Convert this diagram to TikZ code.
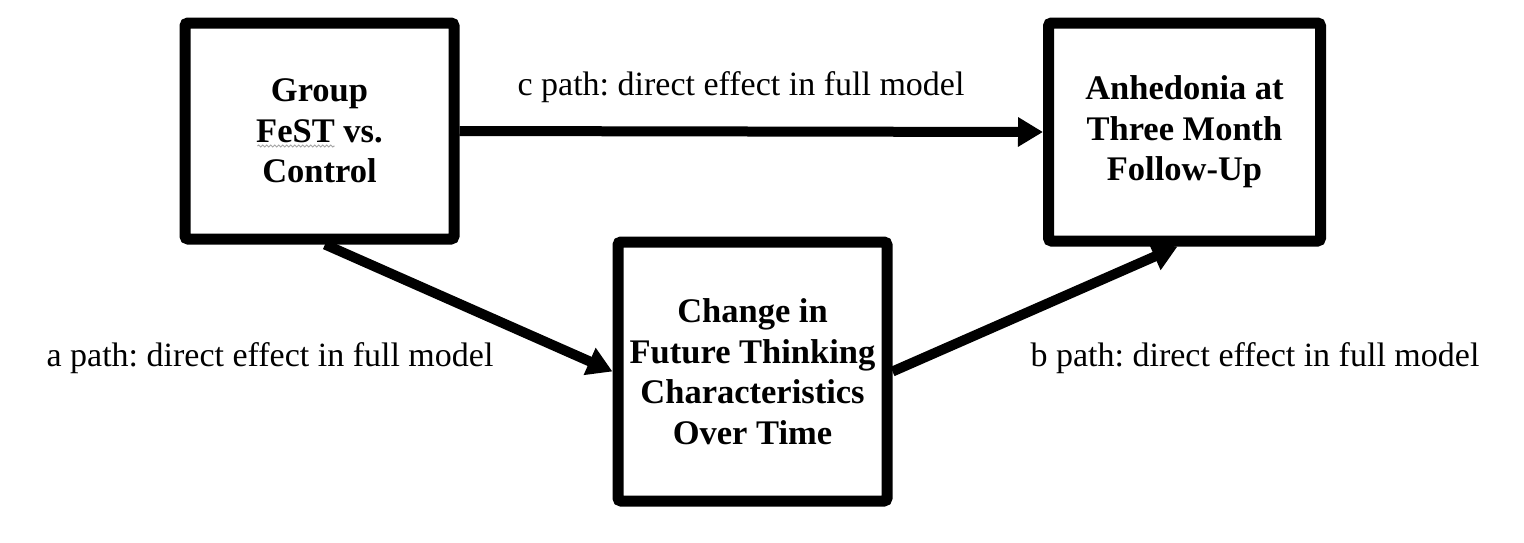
\documentclass[tikz,border=0pt]{standalone}
\usepackage{fontspec}
\setmainfont{Liberation Serif}
\usetikzlibrary{arrows.meta,calc,decorations.pathmorphing}
\tikzset{
  boxnode/.style={draw=black, line width=11pt, rounded corners=3pt, fill=white,
    inner sep=0pt, align=center,
    font=\fontsize{34.5}{40.5}\selectfont\bfseries},
  pathlabel/.style={inner sep=0pt, font=\fontsize{34}{40}\selectfont},
  conn/.style={line width=10pt, -{Triangle[length=25pt,width=28pt]}},
  squiggle/.style={draw=black!35, line width=1pt, decorate,
    decoration={snake, segment length=4pt, amplitude=1pt}}
}
\begin{document}
\frenchspacing
\begin{tikzpicture}[x=1pt,y=-1pt]
\useasboundingbox[fill=white] (0,0) rectangle (1524,542);
\node[boxnode, minimum width=269pt, minimum height=216pt] (grp) at (319.5,131) {Group\\FeST vs.\\Control};
\node[boxnode, minimum width=269pt, minimum height=259pt] (fut) at (752.5,371.5) {Change in\\Future Thinking\\Characteristics\\Over Time};
\node[boxnode, minimum width=272pt, minimum height=218pt] (anh) at (1184.5,132) {Anhedonia at\\Three Month\\Follow-Up};
\node[pathlabel] (lc) at (741,87) {c path: direct effect in full model};
\node[pathlabel] (la) at (270,358) {a path: direct effect in full model};
\node[pathlabel] (lb) at (1255,358) {b path: direct effect in full model};
\coordinate (sqa) at ($(grp.center)+(-62,15)$);
\coordinate (sqb) at ($(grp.center)+(15,15)$);
\draw[squiggle] (sqa) -- (sqb);
\draw[conn] (grp.east) -- (anh.west);
\draw[conn] ($(grp.south)+(5.5,0)$) -- (fut.west);
\draw[conn] (fut.east) -- ($(anh.south)+(-7,0)$);
\end{tikzpicture}
\end{document}
